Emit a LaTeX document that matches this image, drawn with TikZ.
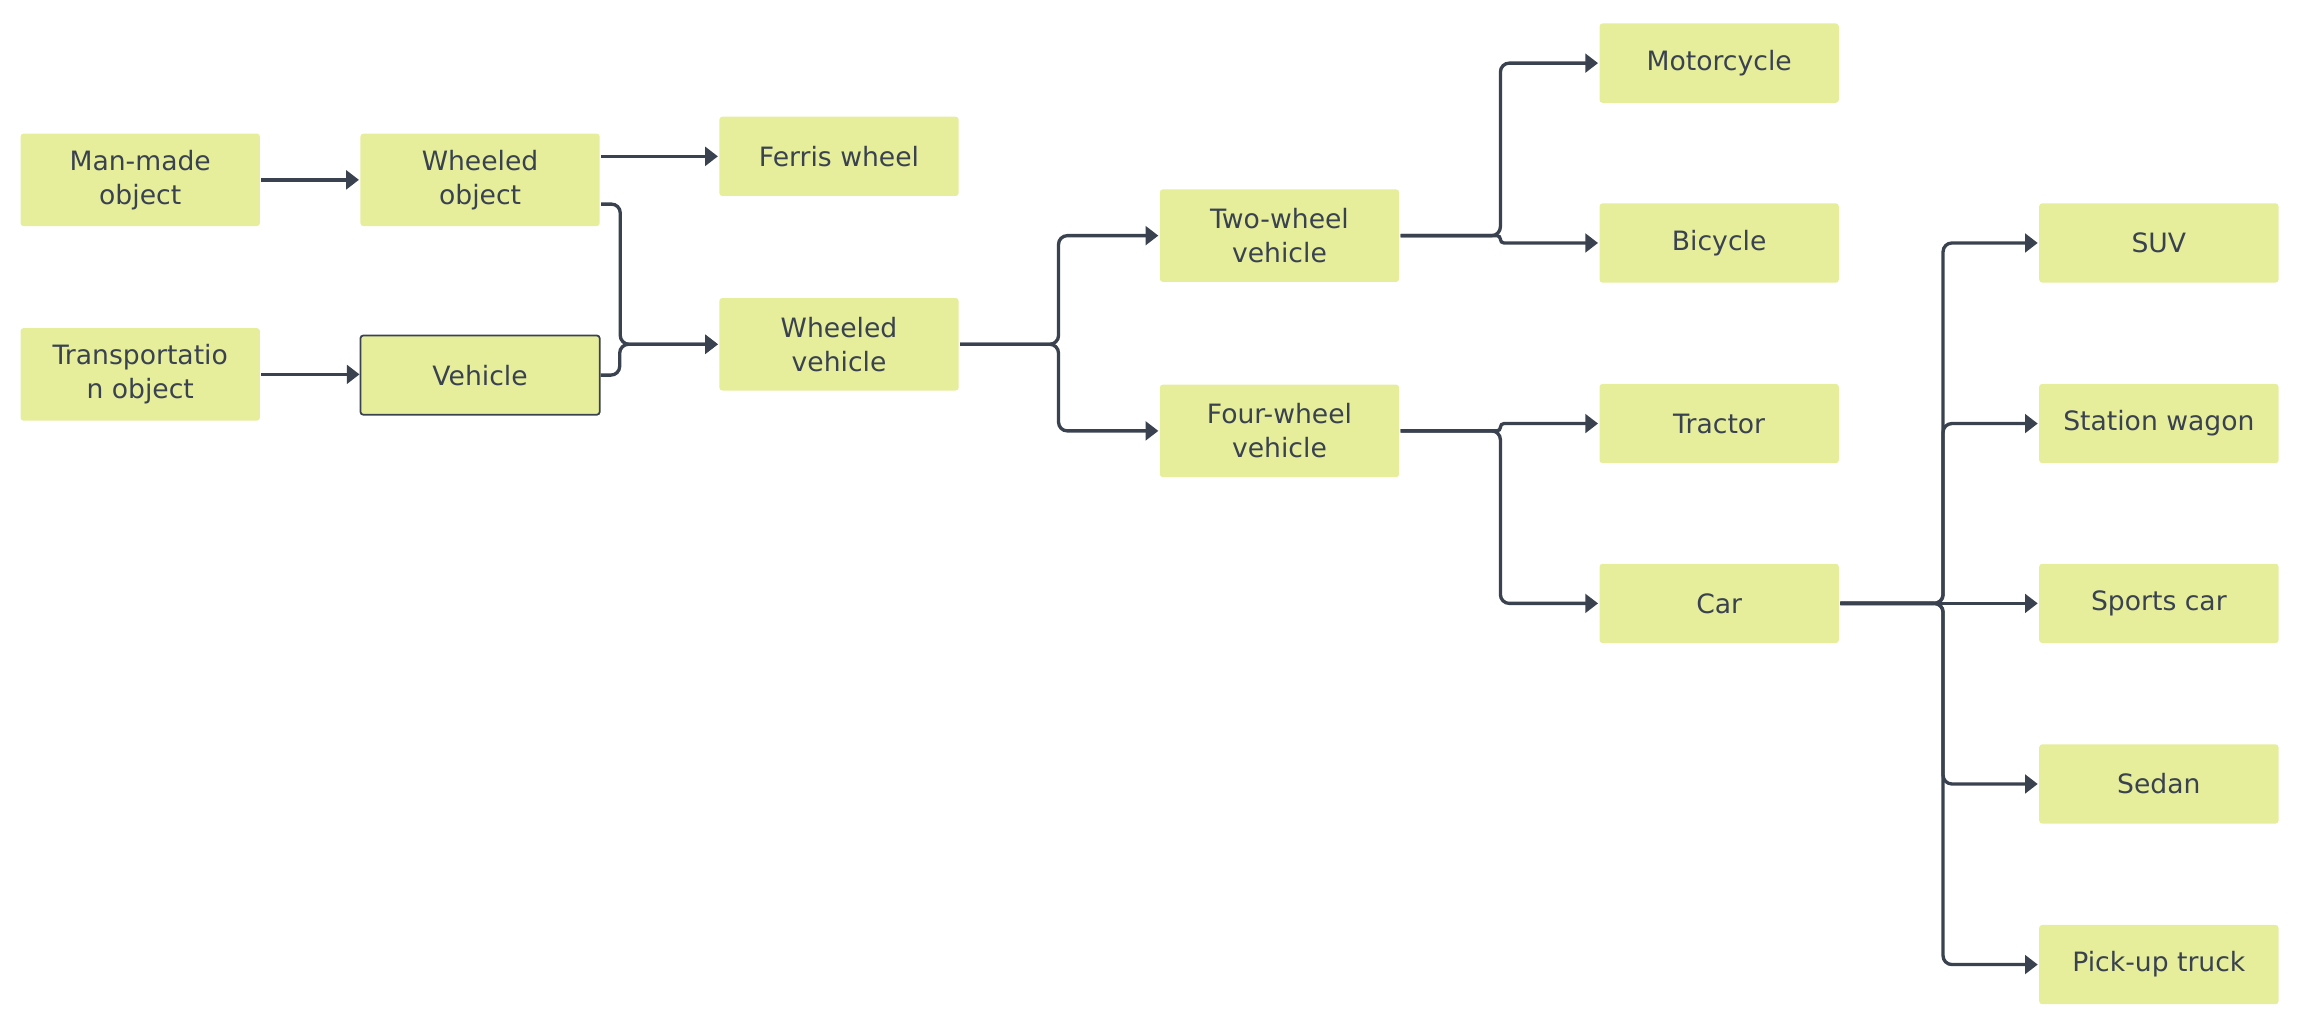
\documentclass[tikz,border=0pt]{standalone}
\usepackage{fontspec}
\setmainfont{DejaVu Sans}
\usetikzlibrary{arrows.meta}
\definecolor{boxfill}{RGB}{230,238,156}
\definecolor{ink}{RGB}{58,66,80}
\tikzset{every picture/.style={line width=1.5pt}}
\tikzset{
  box/.style={fill=boxfill, draw=none, rounded corners=1.5pt, minimum width=122.25pt, minimum height=40.5pt, inner sep=0.75pt, align=center, text=ink, font=\fontsize{13.6}{17.5}\selectfont},
  tall/.style={minimum height=47.25pt},
  framed/.style={draw=ink, line width=0.9pt},
  link/.style={draw=ink, line width=1.7pt, rounded corners=4.5pt, -{Triangle[length=6.5pt,width=9.5pt]}},
  tight/.style={rounded corners=1.8pt},
}
\begin{document}
\begin{tikzpicture}[x=0.75pt,y=0.75pt,yscale=-1,xscale=1]
%set diagram left start at 0, and has height of 690.7
\path (0,0) rectangle (1568,690.7);

% Text Node
\draw (95.5,122.5) node [box,tall] (manmade) {Man-made\\object};
% Text Node
\draw (95.5,255) node [box,tall] (transport) {Transportatio\\n object};
% Text Node
\draw (327,122.5) node [box,tall] (wobj) {Wheeled\\object};
% Text Node
\draw (327,255.5) node [box,framed] (vehicle) {Vehicle};
% Text Node
\draw (571.5,106.5) node [box] (ferris) {Ferris wheel};
% Text Node
\draw (571.5,234.5) node [box,tall] (wveh) {Wheeled\\vehicle};
% Text Node
\draw (871.5,160.5) node [box,tall] (twow) {Two-wheel\\vehicle};
% Text Node
\draw (871.5,293.5) node [box,tall] (fourw) {Four-wheel\\vehicle};
% Text Node
\draw (1171,43) node [box] (moto) {Motorcycle};
% Text Node
\draw (1171,165.5) node [box] (bike) {Bicycle};
% Text Node
\draw (1171,288.5) node [box] (tractor) {Tractor};
% Text Node
\draw (1171,411) node [box] (car) {Car};
% Text Node
\draw (1470.5,165.5) node [box] (suv) {SUV};
% Text Node
\draw (1470.5,288.5) node [box] (wagon) {Station wagon};
% Text Node
\draw (1470.5,411) node [box] (sports) {Sports car};
% Text Node
\draw (1470.5,534) node [box] (sedan) {Sedan};
% Text Node
\draw (1470.5,657) node [box] (pickup) {Pick-up truck};

%Straight Lines
\draw [link] (manmade.east) -- (wobj.west);
\draw [link] (transport.east) -- (transport.east -| vehicle.west);
\draw [link] (wobj.east |- ferris.west) -- (ferris.west);
%Elbow Lines
\draw [link] ([yshift=12.4pt]wobj.east) -- ++(13,0) |- (wveh.west);
\draw [link] (vehicle.east) -- ++(13,0) |- (wveh.west);
\draw [link] (wveh.east) -- ++(67,0) |- (twow.west);
\draw [link] (wveh.east) -- ++(67,0) |- (fourw.west);
\draw [link] (twow.east) -- ++(68,0) |- (moto.west);
\draw [link,tight] (twow.east) -- ++(68,0) |- (bike.west);
\draw [link,tight] (fourw.east) -- ++(68,0) |- (tractor.west);
\draw [link] (fourw.east) -- ++(68,0) |- (car.west);
\draw [link] (car.east) -- ++(70,0) |- (suv.west);
\draw [link] (car.east) -- ++(70,0) |- (wagon.west);
\draw [link] (car.east) -- (sports.west);
\draw [link] (car.east) -- ++(70,0) |- (sedan.west);
\draw [link] (car.east) -- ++(70,0) |- (pickup.west);

\end{tikzpicture}
\end{document}
